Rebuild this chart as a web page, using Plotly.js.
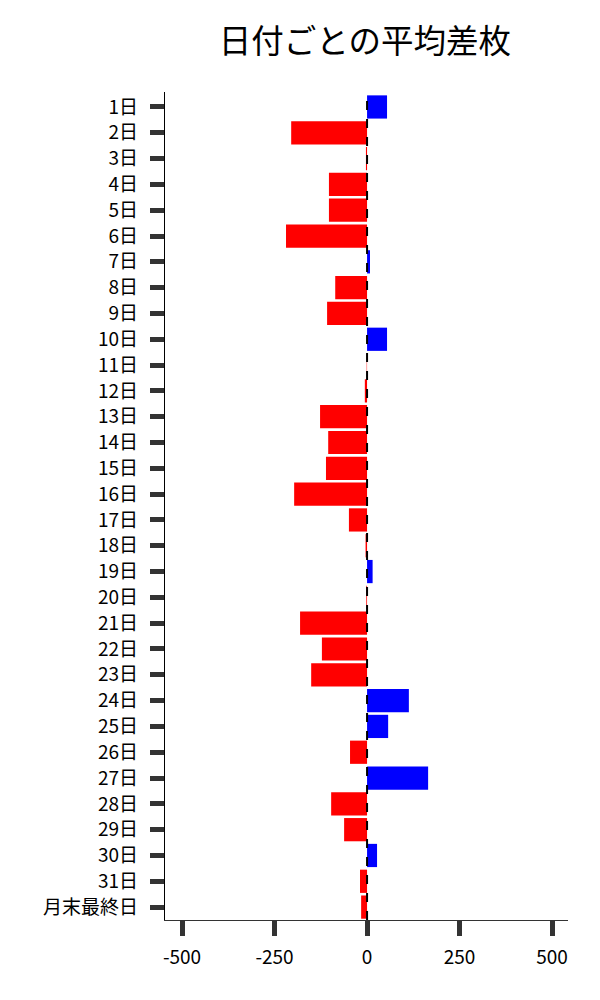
<!DOCTYPE html>
<html><head><meta charset="utf-8">
<script src="https://cdn.plot.ly/plotly-3.0.1.min.js"></script>
<style>body{margin:0;background:#fff}#c{width:600px;height:1000px}</style>
</head><body><div id="c"></div>
<script>
const categories = ["1日","2日","3日","4日","5日","6日","7日","8日","9日","10日","11日","12日","13日","14日","15日","16日","17日","18日","19日","20日","21日","22日","23日","24日","25日","26日","27日","28日","29日","30日","31日","月末最終日"];
const avgDiff = [54,-205,-3,-103,-103,-219,8,-86,-108,54,-1,-6,-127,-105,-111,-197,-49,-4,15,-2,-181,-122,-151,113,57,-46,165,-97,-62,27,-19,-16];
const xTicks = [-500,-250,0,250,500];
const colors = avgDiff.map(v => v >= 0 ? '#0000ff' : '#ff0000');
const font = "'Noto Sans CJK JP', 'Noto Sans', sans-serif";
Plotly.newPlot('c', [{
  type:'bar', orientation:'h', y:categories, x:avgDiff,
  marker:{color:colors, line:{width:0}}, width:0.9, hoverinfo:'x+y'
}], {
  width:600, height:1000,
  margin:{l:165, r:32, t:92, b:80},
  paper_bgcolor:'#fff', plot_bgcolor:'#fff',
  font:{family:font, size:19, color:'#000'},
  title:{text:'日付ごとの平均差枚', x:0.608, xanchor:'center', y:0.958, yanchor:'middle', font:{size:32.5, family:font, color:'#000'}},
  showlegend:false,
  xaxis:{range:[-546,543], tickvals:xTicks, ticktext:xTicks.map(String), showgrid:false, zeroline:false,
    showline:true, linecolor:'#333', linewidth:1.2, ticks:'outside', ticklen:15, tickwidth:5, tickcolor:'#333',
    ticklabelstandoff:5, tickfont:{size:19, family:font}},
  yaxis:{type:'category', range:[31.5,-0.58], showgrid:false, zeroline:false,
    showline:true, linecolor:'#000', linewidth:1.2, ticks:'outside', ticklen:14, tickwidth:5, tickcolor:'#333',
    ticklabelstandoff:8, tickfont:{size:19, family:font}},
  shapes:[{type:'line', xref:'x', yref:'paper', x0:0, x1:0, y0:0, y1:1, layer:'above',
    line:{color:'#000', width:2, dash:'dash'}}]
}, {displayModeBar:false, staticPlot:true});
</script></body></html>
